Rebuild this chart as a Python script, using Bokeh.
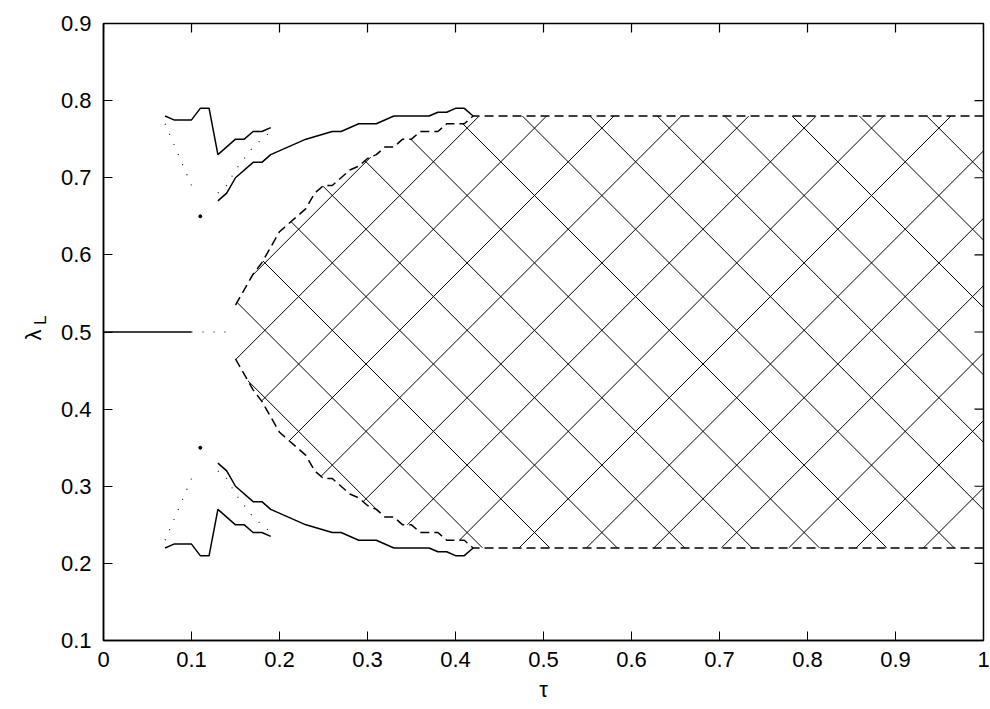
import numpy as np
from bokeh.plotting import figure
from bokeh.models import Range1d, FixedTicker, LinearAxis
from bokeh.embed import file_html
from bokeh.resources import INLINE

# ---------------- data ----------------
x_ticks = [0, 0.1, 0.2, 0.3, 0.4, 0.5, 0.6, 0.7, 0.8, 0.9, 1.0]
x_tick_labels = ["0", "0.1", "0.2", "0.3", "0.4", "0.5", "0.6", "0.7", "0.8", "0.9", "1"]
y_ticks = [0.1, 0.2, 0.3, 0.4, 0.5, 0.6, 0.7, 0.8, 0.9]
y_tick_labels = ["0.1", "0.2", "0.3", "0.4", "0.5", "0.6", "0.7", "0.8", "0.9"]

# boundary of hatched region (dashed)
bound_tau = [0.15, 0.16, 0.17, 0.18, 0.19, 0.20, 0.21, 0.22, 0.23, 0.24, 0.25, 0.26, 0.27, 0.28,
             0.29, 0.30, 0.31, 0.32, 0.33, 0.34, 0.35, 0.36, 0.37, 0.38, 0.39, 0.40, 0.41, 0.42, 1.00]
bound_up = [0.535, 0.555, 0.575, 0.59, 0.61, 0.63, 0.64, 0.65, 0.66, 0.68, 0.69, 0.69, 0.70, 0.71,
            0.715, 0.725, 0.73, 0.74, 0.74, 0.75, 0.75, 0.76, 0.76, 0.76, 0.77, 0.77, 0.77, 0.78, 0.78]
bound_lo = [0.465, 0.445, 0.425, 0.41, 0.39, 0.37, 0.36, 0.35, 0.34, 0.32, 0.31, 0.31, 0.30, 0.29,
            0.285, 0.275, 0.27, 0.26, 0.26, 0.25, 0.25, 0.24, 0.24, 0.24, 0.23, 0.23, 0.23, 0.22, 0.22]

# outer solid branch (left)
a_tau = [0.07, 0.08, 0.10, 0.11, 0.12, 0.13, 0.15, 0.16, 0.17, 0.18, 0.19]
a_up = [0.78, 0.775, 0.775, 0.79, 0.79, 0.73, 0.75, 0.75, 0.76, 0.76, 0.765]
a_lo = [0.22, 0.225, 0.225, 0.21, 0.21, 0.27, 0.25, 0.25, 0.24, 0.24, 0.235]

# solid branch running along the hatched region
b_tau = [0.13, 0.14, 0.15, 0.17, 0.18, 0.19, 0.23, 0.26, 0.27, 0.29, 0.31, 0.33, 0.37, 0.38,
         0.39, 0.40, 0.41, 0.42]
b_up = [0.67, 0.68, 0.70, 0.72, 0.72, 0.73, 0.75, 0.76, 0.76, 0.77, 0.77, 0.78, 0.78, 0.785,
        0.785, 0.79, 0.79, 0.78]
b_lo = [0.33, 0.32, 0.30, 0.28, 0.28, 0.27, 0.25, 0.24, 0.24, 0.23, 0.23, 0.22, 0.22, 0.215,
        0.215, 0.21, 0.21, 0.22]

# dotted branches
c_tau = [0.07, 0.10]
c_up = [0.77, 0.69]
c_lo = [0.23, 0.31]
d_tau = [0.13, 0.14, 0.15, 0.16, 0.17, 0.18, 0.19]
d_up = [0.68, 0.69, 0.71, 0.725, 0.74, 0.75, 0.76]
d_lo = [0.32, 0.31, 0.29, 0.275, 0.26, 0.25, 0.24]

# isolated points
pt_tau = [0.11, 0.11]
pt_lam = [0.65, 0.35]

# symmetric branch at lambda = 0.5
m_tau = [0.0, 0.10]
m_lam = [0.5, 0.5]
md_tau = [0.10, 0.14]
md_lam = [0.5, 0.5]

# ---------------- figure ----------------
W, H = 990, 709
BL, BR, BT, BB = 103, 7, 23, 69
p = figure(width=W, height=H, x_range=Range1d(0, 1), y_range=Range1d(0.1, 0.9),
           output_backend="svg", toolbar_location=None,
           min_border_left=BL, min_border_right=BR, min_border_top=BT, min_border_bottom=BB)
p.grid.visible = False
p.outline_line_color = "black"
p.outline_line_width = 1.5
p.background_fill_color = "white"
p.border_fill_color = "white"

FONT = "Liberation Sans"
xa = p.xaxis[0]
ya = p.yaxis[0]
for ax in (xa, ya):
    ax.axis_line_color = "black"
    ax.axis_line_width = 1.5
    ax.major_tick_in = 9
    ax.major_tick_out = 0
    ax.minor_tick_line_color = None
    ax.major_tick_line_color = "black"
    ax.major_label_text_font = FONT
    ax.major_label_text_font_size = "22px"
    ax.major_label_text_color = "black"
    ax.axis_label_text_font = FONT
    ax.axis_label_text_font_style = "normal"
    ax.axis_label_text_color = "black"

xa.ticker = FixedTicker(ticks=x_ticks)
xa.major_label_overrides = {t: s for t, s in zip(x_ticks, x_tick_labels)}
ya.ticker = FixedTicker(ticks=y_ticks)
ya.major_label_overrides = {t: s for t, s in zip(y_ticks, y_tick_labels)}
xa.major_label_standoff = 11
ya.major_label_standoff = 12
xa.axis_label = "τ"
xa.axis_label_text_font_size = "22px"
xa.axis_label_standoff = 7

# y label  lambda_L : subscript "L" on the main axis, "lambda" on an outer label-only axis
NB = "\u00a0"
ya.axis_label = NB * 5 + "L"
ya.axis_label_text_font_size = "17px"
ya.axis_label_standoff = 8
lam_axis = LinearAxis(ticker=FixedTicker(ticks=[]), axis_line_color=None,
                      major_tick_line_color=None, minor_tick_line_color=None,
                      axis_label="λ" + NB, axis_label_standoff=-18,
                      axis_label_text_font=FONT, axis_label_text_font_size="22px",
                      axis_label_text_font_style="normal", axis_label_text_color="black")
p.add_layout(lam_axis, "left")

frame_w = W - BL - BR
frame_h = H - BT - BB
sx_per = frame_w / 1.0
sy_per = frame_h / 0.8

# mirrored tick marks on the top and right sides of the box (9 px long, pointing inwards)
TICK = 9
p.segment(x0=x_ticks, y0=[0.9] * len(x_ticks), x1=x_ticks,
          y1=[0.9 - TICK / sy_per] * len(x_ticks), line_color="black", line_width=1.2)
p.segment(x0=[1.0] * len(y_ticks), y0=y_ticks, x1=[1.0 - TICK / sx_per] * len(y_ticks),
          y1=y_ticks, line_color="black", line_width=1.2)

# ---------------- hatch (45 degree screen-space cross hatch clipped to region) ----------
x0_px = BL   # page px of tau=0
y0_px = BT   # page px of lambda=0.9
bt = np.array(bound_tau)
bu = np.array(bound_up)
bl = np.array(bound_lo)
SP = 67.4
hx, hy = [], []
px = np.arange(x0_px + 0.14 * sx_per, x0_px + frame_w + 0.5, 0.25)
fams = [(+1, 2.0 + SP * k) for k in range(-6, 14)] + [(-1, 55.0 + SP * k) for k in range(0, 30)]
for sgn, c in fams:
    if sgn > 0:
        py = px - c
    else:
        py = c - px
    tau = (px - x0_px) / sx_per
    lam = 0.9 - (py - y0_px) / sy_per
    inside = (tau >= bt[0]) & (tau <= 1.0) & (lam <= np.interp(tau, bt, bu)) & (lam >= np.interp(tau, bt, bl))
    if not inside.any():
        continue
    idx = np.flatnonzero(inside)
    breaks = np.flatnonzero(np.diff(idx) > 1)
    starts = np.r_[idx[0], idx[breaks + 1]]
    ends = np.r_[idx[breaks], idx[-1]]
    for s, e in zip(starts, ends):
        if e > s:
            hx.append([tau[s], tau[e]])
            hy.append([lam[s], lam[e]])

p.multi_line(hx, hy, line_color="black", line_width=1.0)

# ---------------- curves ----------------
LW = 1.5
p.line(bound_tau, bound_up, line_color="black", line_width=LW, line_dash="9 5")
p.line(bound_tau, bound_lo, line_color="black", line_width=LW, line_dash="9 5")
p.line(a_tau, a_up, line_color="black", line_width=LW)
p.line(a_tau, a_lo, line_color="black", line_width=LW)
p.line(b_tau, b_up, line_color="black", line_width=LW)
p.line(b_tau, b_lo, line_color="black", line_width=LW)
p.line(c_tau, c_up, line_color="black", line_width=1.1, line_dash="1 10")
p.line(c_tau, c_lo, line_color="black", line_width=1.1, line_dash="1 10")
p.line(d_tau, d_up, line_color="black", line_width=1.1, line_dash="1 10")
p.line(d_tau, d_lo, line_color="black", line_width=1.1, line_dash="1 10")
p.line(m_tau, m_lam, line_color="black", line_width=LW)
p.line(md_tau, md_lam, line_color="black", line_width=1.1, line_dash="1 10")
p.scatter(pt_tau, pt_lam, size=3, color="black")

open("out.html", "w").write(file_html(p, INLINE))
